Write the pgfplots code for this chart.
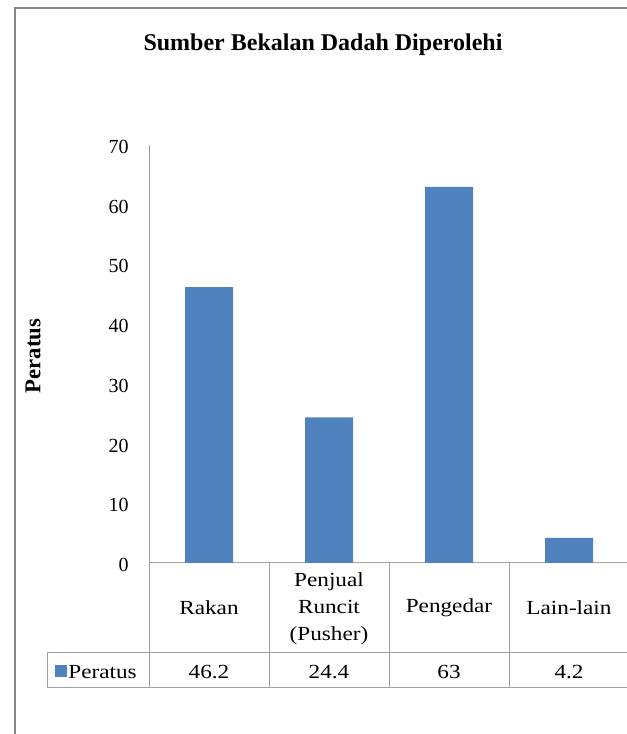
\documentclass[border=0pt]{standalone}
\usepackage{fontspec}
\setmainfont{Liberation Serif}
\usepackage{graphicx}
\usepackage{pgfplots}
\pgfplotsset{compat=1.18}
\definecolor{barblue}{HTML}{4F81BD}
\definecolor{framegray}{HTML}{868686}
\definecolor{tline}{HTML}{A0A0A0}
\newcommand\sx[1]{\scalebox{1.16}[1]{#1}}
\newcommand\sxm[1]{\scalebox{1.16}[1]{\begin{tabular}{@{}c@{}}#1\end{tabular}}}
\begin{document}
\begin{tikzpicture}[x=0.75pt,y=0.75pt]
\useasboundingbox (0,0) rectangle (626,734);
\begin{axis}[
  at={(111.75pt,128.25pt)}, anchor=south west,
  scale only axis, width=360pt, height=313.5pt,
  xmin=-0.5, xmax=3.5, ymin=0, ymax=70,
  axis lines*=left,
  axis line style={draw=tline, line width=0.75pt, -},
  ytick={0,10,...,70}, major tick length=0pt,
  xtick={0,1,2,3},
  xticklabels={\sx{Rakan}, \sxm{Penjual\\Runcit\\(Pusher)}, \sx{Pengedar}, \sx{Lain-lain}},
  xticklabel style={font=\fontsize{15}{20.25}\selectfont, anchor=center, inner sep=0pt, yshift=-33.75pt},
  yticklabel style={font=\fontsize{15}{18}\selectfont, anchor=east, inner sep=0pt, xshift=-15pt, yshift=-1.5pt},
  /pgf/number format/assume math mode=true,
  ybar, bar width=36pt,
]
\addplot[fill=barblue, draw=none] coordinates {(0,46.2) (1,24.4) (2,63) (3,4.2)};
\end{axis}
% frame
\draw[framegray, line width=1.5pt] (14.5,0) -- (14.5,725.5) -- (630,725.5);
% data table
\begin{scope}[tline, line width=0.75pt]
\draw (149,171) -- (149,46);
\draw (269,171) -- (269,46);
\draw (389,171) -- (389,46);
\draw (509,171) -- (509,46);
\draw (47,81) -- (630,81);
\draw (47,46) -- (630,46);
\draw (47,81) -- (47,46);
\end{scope}
\fill[barblue] (55,69) rectangle (67,57);
\node[anchor=west, inner sep=0.5pt, font=\fontsize{15}{18}\selectfont] at (67.5,62) {\sx{Peratus}};
\begin{scope}[every node/.style={font=\fontsize{15}{18}\selectfont, inner sep=0pt}]
\node at (209,62) {\sx{46.2}};
\node at (329,62) {\sx{24.4}};
\node at (449,62) {\sx{63}};
\node at (569,62) {\sx{4.2}};
\end{scope}
\node[font=\bfseries\fontsize{18}{22}\selectfont] at (323,689) {Sumber Bekalan Dadah Diperolehi};
\node[font=\bfseries\fontsize{17}{20}\selectfont, rotate=90] at (33,378) {Peratus};
\end{tikzpicture}
\end{document}
